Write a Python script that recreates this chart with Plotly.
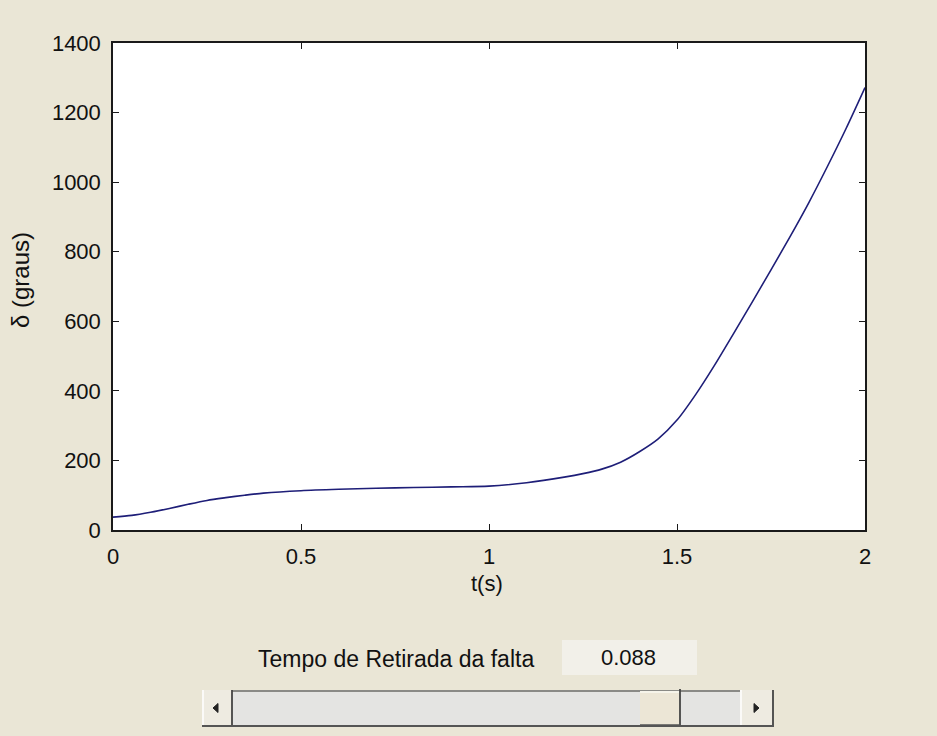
import plotly.graph_objects as go

# ---- data ----
t_s = [0, 0.05, 0.1, 0.15, 0.2, 0.25, 0.3, 0.35, 0.4, 0.5, 0.6, 0.7, 0.8, 0.9,
       1.0, 1.1, 1.2, 1.25, 1.3, 1.35, 1.4, 1.45, 1.5, 1.55, 1.6, 1.65, 1.7,
       1.75, 1.8, 1.85, 1.9, 1.95, 2.0]
delta_graus = [37, 42, 51, 62, 74, 85, 93, 100, 106, 113, 117, 120, 122, 124,
               126, 136, 152, 162, 175, 195, 225, 262, 316, 390, 474, 564, 655,
               748, 842, 940, 1045, 1155, 1272]
x_ticks = [0, 0.5, 1, 1.5, 2]
x_ticklabels = ["0", "0.5", "1", "1.5", "2"]
y_ticks = [0, 200, 400, 600, 800, 1000, 1200, 1400]
slider_label = "Tempo de Retirada da falta"
slider_value = "0.088"

W, H = 937, 736
L, R, T, B = 113, 865, 43, 530
BG = "#EAE6D6"
FONT = "Liberation Sans, Arial, sans-serif"


def px(x):
    return (x - L) / (R - L)


def py(y):
    return (B - y) / (B - T)


fig = go.Figure()
fig.add_trace(go.Scatter(x=t_s, y=delta_graus, mode="lines",
                         line=dict(color="#1E1E78", width=1.6, shape="spline",
                                   smoothing=0.8),
                         showlegend=False, hoverinfo="skip"))

axis_common = dict(showgrid=False, zeroline=False, showline=True,
                   linecolor="#1a1a1a", linewidth=1.5, mirror="ticks",
                   ticks="inside", ticklen=6, tickwidth=1.3, tickcolor="#1a1a1a",
                   tickfont=dict(family=FONT, size=22, color="#111"))

fig.update_xaxes(range=[0, 2], tickvals=x_ticks, ticktext=x_ticklabels,
                 ticklabelstandoff=6, **axis_common)
fig.update_yaxes(range=[0, 1400], tickvals=y_ticks, ticklabelstandoff=6,
                 **axis_common)

annotations = [
    dict(text="t(s)", x=px(487), y=py(583), size=22),
    dict(text="δ (graus)", x=px(20), y=py(280), textangle=-90, size=24),
    dict(text=slider_label, x=px(396), y=py(659), size=23),
    dict(text=slider_value, x=px(628), y=py(657), size=22),
]
for a in annotations:
    s = a.pop("size")
    a.update(xref="paper", yref="paper", showarrow=False,
             xanchor="center", yanchor="middle",
             font=dict(family=FONT, size=s, color="#111"))

shapes = []


def rect(x0, y0, x1, y1, fill, line_color="rgba(0,0,0,0)", lw=0):
    shapes.append(dict(type="rect", xref="paper", yref="paper",
                       x0=px(x0), x1=px(x1), y0=py(y1), y1=py(y0),
                       fillcolor=fill, line=dict(color=line_color, width=lw),
                       layer="above"))


def seg(x0, y0, x1, y1, color, lw=1.5):
    shapes.append(dict(type="line", xref="paper", yref="paper",
                       x0=px(x0), x1=px(x1), y0=py(y0), y1=py(y1),
                       line=dict(color=color, width=lw), layer="above"))


# value box
rect(562, 640, 697, 675, "#F2F0E9")
# slider trough
rect(232, 690, 740, 725, "#E4E4E2")
seg(232, 691, 740, 691, "#8a8a86", 2)
# thumb
rect(640, 691, 680, 725, "#ECE6D6")
seg(680, 689, 680, 726, "#444", 1.8)
seg(640, 725, 680, 725, "#555", 1.5)
seg(640, 692, 679, 692, "#FAF8F0", 1.5)
# buttons
rect(202, 690, 232, 725, "#EEEBE1")
rect(740, 690, 773, 725, "#EEEBE1")
seg(203, 690, 203, 725, "#FFFFFF", 1.5)
seg(741, 690, 741, 725, "#FFFFFF", 1.5)
seg(232, 690, 232, 726, "#444", 1.8)
seg(773, 690, 773, 726, "#444", 1.8)
seg(202, 726, 774, 726, "#555", 1.8)
# arrows
shapes.append(dict(type="path", xref="paper", yref="paper",
                   path="M {},{} L {},{} L {},{} Z".format(
                       px(213), py(708), px(218), py(703.5), px(218), py(712.5)),
                   fillcolor="#222", line=dict(color="#222", width=1), layer="above"))
shapes.append(dict(type="path", xref="paper", yref="paper",
                   path="M {},{} L {},{} L {},{} Z".format(
                       px(759), py(708), px(754), py(703.5), px(754), py(712.5)),
                   fillcolor="#222", line=dict(color="#222", width=1), layer="above"))

fig.update_layout(width=W, height=H, paper_bgcolor=BG, plot_bgcolor="white",
                  margin=dict(l=L, r=W - R, t=T, b=H - B, autoexpand=False),
                  annotations=annotations, shapes=shapes,
                  font=dict(family=FONT, size=22, color="#111"))

fig.write_html("out.html", config={"displayModeBar": False},
               post_script="document.body.style.margin='0';document.body.style.padding='0';")
